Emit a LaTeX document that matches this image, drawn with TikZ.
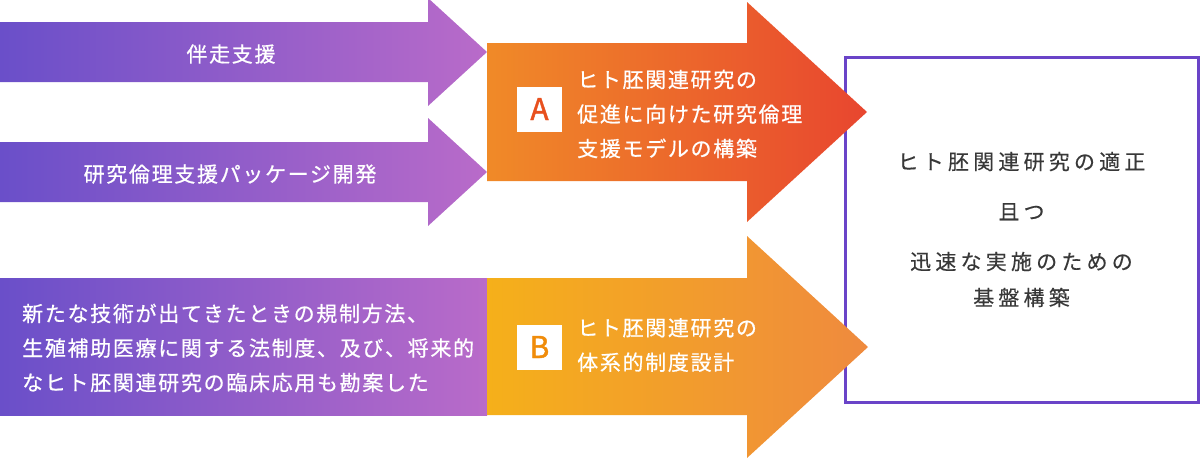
\documentclass[tikz,border=0pt]{standalone}
\usepackage{fontspec}
\setmainfont{Noto Sans CJK JP}
\newfontfamily\jpwide[LetterSpace=8,FakeBold=0.6]{Noto Sans CJK JP}
\newfontfamily\jpwider[LetterSpace=20,FakeBold=0.3]{Noto Sans CJK JP}
\newfontfamily\jpbadge[FakeBold=1.5]{Noto Sans CJK JP}
\definecolor{violetL}{HTML}{6A4FC9}
\definecolor{violetR}{HTML}{B96BC9}
\definecolor{orangeL}{HTML}{F08A28}
\definecolor{redR}{HTML}{E8462F}
\definecolor{yellowL}{HTML}{F5B01A}
\definecolor{orangeR}{HTML}{EF8A3E}
\definecolor{frame}{HTML}{6A44C8}
\definecolor{letterA}{HTML}{E8501E}
\definecolor{letterB}{HTML}{F08C0A}
\definecolor{ink}{HTML}{383838}

\begin{document}
\begin{tikzpicture}
      [x=1pt,y=-1pt,
       whitetext/.style={text=white,font=\jpwide\fontsize{21}{34.5}\selectfont,inner sep=0pt},
       badge/.style={fill=white,minimum size=45pt,inner sep=0pt,font=\jpbadge\fontsize{30}{30}\selectfont},
       purplearrow/.style={left color=violetL,right color=violetR}]
      \useasboundingbox (0,0) rectangle (1200,459);
      \node[draw=frame,line width=3pt,minimum width=353pt,minimum height=345pt,
            text=ink,align=center,font=\jpwider\fontsize{21}{36}\selectfont]
        (goal) at (1021.5,229.5)
        {ヒト胚関連研究の適正\\[14pt]且つ\\[14pt]迅速な実施のための\\基盤構築};
      \shade[purplearrow] (0,22) -- (428,22) -- (428,-2) -- (487,52)
        -- (428,106) -- (428,82) -- (0,82) -- cycle;
      \shade[purplearrow] (0,142) -- (428,142) -- (428,118) -- (487,172)
        -- (428,226) -- (428,202) -- (0,202) -- cycle;
      \shade[purplearrow] (0,278) rectangle (487,415);
      \shade[left color=orangeL,right color=redR] (487,43) -- (747,43) -- (747,2)
        -- (867,112) -- (747,222) -- (747,181) -- (487,181) -- cycle;
      \shade[left color=yellowL,right color=orangeR] (487,278) -- (747,278) -- (747,236)
        -- (868,347) -- (747,458) -- (747,415) -- (487,415) -- cycle;
      \node[whitetext] (support) at (231,54) {伴走支援};
      \node[whitetext] (package) at (230,174) {研究倫理支援パッケージ開発};
      \node[whitetext,anchor=west,align=left] (background) at (22,348)
        {新たな技術が出てきたときの規制方法、\\生殖補助医療に関する法制度、及び、将来的\\なヒト胚関連研究の臨床応用も勘案した};
      \node[badge,text=letterA] (a) at (539.5,109) {A};
      \node[whitetext,anchor=west,align=left] (atext) at (577,114)
        {ヒト胚関連研究の\\促進に向けた研究倫理\\支援モデルの構築};
      \node[badge,text=letterB] (b) at (539.5,347) {B};
      \node[whitetext,anchor=west,align=left] (btext) at (577,345)
        {ヒト胚関連研究の\\体系的制度設計};
    \end{tikzpicture}
\end{document}
